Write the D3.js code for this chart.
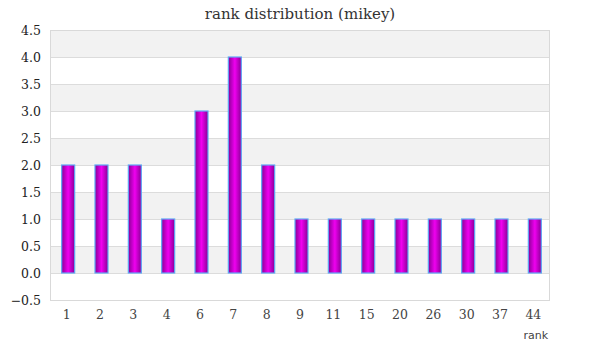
<!DOCTYPE html>
<html><head><meta charset="utf-8">
<script src="https://cdn.jsdelivr.net/npm/d3@7"></script>
<style>body{margin:0;background:#fff}svg{display:block}</style>
</head><body>
<script>
const categories = ["1","2","3","4","6","7","8","9","11","15","20","26","30","37","44"];
const values = [2,2,2,1,3,4,2,1,1,1,1,1,1,1,1];
const yTicks = [-0.5,0,0.5,1,1.5,2,2.5,3,3.5,4,4.5];
const title = "rank distribution (mikey)";
const xTitle = "rank";

const W=600,H=360, L=50,R=550,T=30,B=300;
const svg=d3.select("body").append("svg").attr("width",W).attr("height",H);
const defs=svg.append("defs");
const g=defs.append("linearGradient").attr("id","bg").attr("x1","0%").attr("x2","100%").attr("y1","0%").attr("y2","0%");
g.append("stop").attr("offset","0%").attr("stop-color","#8a0096");
g.append("stop").attr("offset","50%").attr("stop-color","#f000f0");
g.append("stop").attr("offset","100%").attr("stop-color","#8a0096");

const x=d3.scaleBand().domain(categories).range([L,R]).paddingInner(0).paddingOuter(0);
const y=d3.scaleLinear().domain([-0.5,4.5]).range([B,T]);

for(let i=0;i<yTicks.length-1;i++){
  const lo=yTicks[i],hi=yTicks[i+1];
  if(i%2===1) svg.append("rect").attr("x",L).attr("y",y(hi)).attr("width",R-L).attr("height",y(lo)-y(hi)).attr("fill","#f2f2f2");
}
svg.append("g").selectAll("line").data(yTicks).join("line")
 .attr("x1",L).attr("x2",R).attr("y1",d=>Math.round(y(d))+0.5).attr("y2",d=>Math.round(y(d))+0.5)
 .attr("stroke","#dcdcdc").attr("stroke-width",1);
svg.append("rect").attr("x",L+0.5).attr("y",T+0.5).attr("width",R-L-1).attr("height",B-T).attr("fill","none").attr("stroke","#d9d9d9");

const bw=x.bandwidth()*0.39;
svg.append("g").selectAll("rect").data(values).join("rect")
 .attr("x",(d,i)=>x(categories[i])+x.bandwidth()/2-bw/2+1.5)
 .attr("y",d=>y(d)).attr("width",bw).attr("height",d=>y(0)-y(d))
 .attr("fill","url(#bg)").attr("stroke","#5fa8f5").attr("stroke-width",1.2);

const yAxis=svg.append("g").attr("transform",`translate(${L},0)`)
 .call(d3.axisLeft(y).tickValues(yTicks).tickFormat(d3.format(".1f")).tickSize(0).tickPadding(9));
yAxis.select(".domain").remove();
yAxis.selectAll("text").attr("font-family","Georgia, 'DejaVu Serif', serif").attr("font-size",12.5).attr("fill","#222")
 .style("font-variant-numeric","oldstyle-nums");

const xAxis=svg.append("g").attr("transform",`translate(0,${B})`)
 .call(d3.axisBottom(x).tickSize(0).tickPadding(10));
xAxis.select(".domain").remove();
xAxis.selectAll("text").attr("font-family","Georgia, 'DejaVu Serif', serif").attr("font-size",12.5).attr("fill","#444")
 .style("font-variant-numeric","oldstyle-nums");

svg.append("text").attr("x",300).attr("y",19).attr("text-anchor","middle")
 .attr("font-family","Georgia, 'DejaVu Serif', serif").attr("font-size",15).attr("fill","#333").text(title);
svg.append("text").attr("x",548).attr("y",339).attr("text-anchor","end")
 .attr("font-family","'DejaVu Sans', Verdana, sans-serif").attr("font-size",11).attr("fill","#444").text(xTitle);
</script>
</body></html>
